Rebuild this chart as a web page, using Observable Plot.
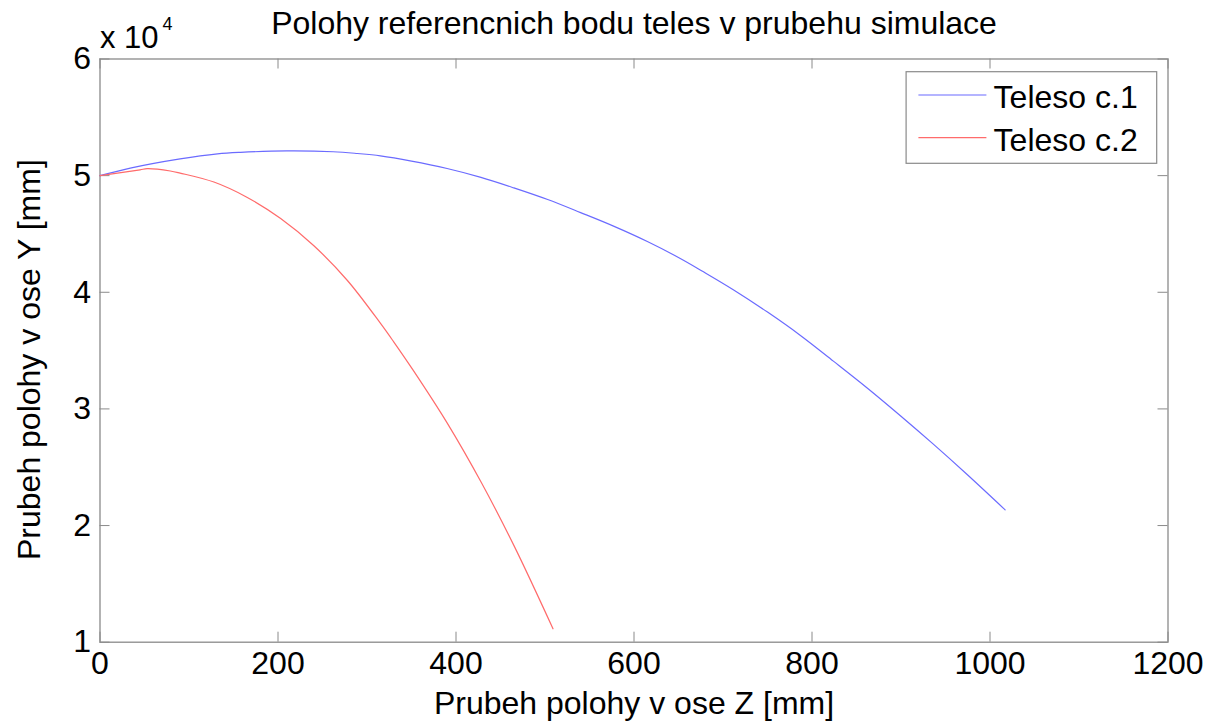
<!DOCTYPE html>
<html>
<head>
<meta charset="utf-8">
<script src="https://cdn.jsdelivr.net/npm/d3@7"></script>
<script src="https://cdn.jsdelivr.net/npm/@observablehq/plot@0.6"></script>
<style>
  html, body { margin: 0; padding: 0; background: white; }
  svg { display: block; }
</style>
</head>
<body>
<div id="chart"></div>
<script>
// ---- data (Z in mm, Y in mm) ----
const zBlue = [0, 34, 90, 132, 158, 210, 262, 289, 315, 350, 390, 428, 465, 503, 540, 577, 615, 652, 677, 712, 750, 787, 824, 862, 899, 936, 974, 1017];
const yBlue = [50000, 50650, 51440, 51870, 52000, 52120, 52050, 51900, 51700, 51250, 50610, 49850, 48950, 47950, 46830, 45670, 44350, 42900, 41800, 40200, 38300, 36300, 34100, 31800, 29440, 27000, 24400, 21350];
const zRed = [0, 45, 53, 79, 90, 128, 165, 203, 240, 278, 315, 330, 352, 390, 428, 465, 509];
const yRed = [50000, 50500, 50600, 50400, 50220, 49450, 48150, 46320, 44010, 41010, 37350, 35750, 33300, 28800, 23750, 18300, 11150];

const seriesNames = ["Teleso c.1", "Teleso c.2"];
const seriesColors = ["#6b6bff", "#ff6b6b"];
const xTicks = [0, 200, 400, 600, 800, 1000, 1200];
const yTicks = [10000, 20000, 30000, 40000, 50000, 60000];

const titleText = "Polohy referencnich bodu teles v prubehu simulace";
const xLabel = "Prubeh polohy v ose Z [mm]";
const yLabel = "Prubeh polohy v ose Y [mm]";

const blue = zBlue.map((z, i) => ({z, y: yBlue[i]}));
const red = zRed.map((z, i) => ({z, y: yRed[i]}));

// ---- layout ----
const W = 1215, H = 722;
const mL = 99.5, mR = 47.5, mT = 58.5, mB = 80.3;
const pW = W - mL - mR, pH = H - mT - mB;
const axisColor = "#8a8a8a";
const font = "'Liberation Sans', Arial, Helvetica, sans-serif";
const tickLen = 10;

const svg = Plot.plot({
  width: W,
  height: H,
  marginLeft: mL,
  marginRight: mR,
  marginTop: mT,
  marginBottom: mB,
  style: {fontFamily: font, color: "black", background: "white", overflow: "visible"},
  x: {domain: [0, 1200]},
  y: {domain: [10000, 60000]},
  marks: [
    Plot.frame({stroke: axisColor, strokeWidth: 1.3}),
    Plot.tickX(xTicks, {x: d => d, insetTop: pH - tickLen, stroke: axisColor}),
    Plot.tickX(xTicks, {x: d => d, insetBottom: pH - tickLen, stroke: axisColor}),
    Plot.tickY(yTicks, {y: d => d, insetRight: pW - tickLen, stroke: axisColor}),
    Plot.tickY(yTicks, {y: d => d, insetLeft: pW - tickLen, stroke: axisColor}),
    Plot.axisX(xTicks, {tickSize: 0, tickPadding: 9, fontSize: 32, label: null, tickFormat: d => String(d), fill: "black"}),
    Plot.axisY(yTicks, {tickSize: 0, tickPadding: 9, fontSize: 32, label: null, tickFormat: d => String(d / 10000), fill: "black"}),
    Plot.line(blue, {x: "z", y: "y", stroke: seriesColors[0], strokeWidth: 1.2, curve: "catmull-rom"}),
    Plot.line(red, {x: "z", y: "y", stroke: seriesColors[1], strokeWidth: 1.2, curve: "catmull-rom"}),
    Plot.text([titleText], {frameAnchor: "top", lineAnchor: "bottom", dy: -25, fontSize: 32, fill: "black"}),
    Plot.text([xLabel], {frameAnchor: "bottom", lineAnchor: "bottom", dy: 72, fontSize: 32, fill: "black"}),
    Plot.text([yLabel], {frameAnchor: "left", textAnchor: "middle", lineAnchor: "bottom", rotate: -90, dx: -60.5, dy: 9, fontSize: 32, fill: "black"}),
    Plot.text(["x 10"], {frameAnchor: "top-left", textAnchor: "start", lineAnchor: "bottom", dx: 0, dy: -11.5, fontSize: 31, fill: "black"}),
    Plot.text(["4"], {frameAnchor: "top-left", textAnchor: "start", lineAnchor: "bottom", dx: 62.5, dy: -29.2, fontSize: 18, fill: "black"})
  ]
});

// ---- legend (inside top-right of the axes) ----
const sel = d3.select(svg);
const lg = sel.append("g").attr("font-family", font).attr("font-size", 32).attr("text-anchor", "start");
const boxX = W - mR - 10.8, boxY = mT + 13.2, boxW = 250.6, boxH = 91.6;
lg.append("rect")
  .attr("x", boxX - boxW).attr("y", boxY).attr("width", boxW).attr("height", boxH)
  .attr("fill", "white").attr("stroke", axisColor).attr("stroke-width", 1.2);
seriesNames.forEach((name, i) => {
  const cy = boxY + 23.3 + i * 42.7;
  lg.append("line")
    .attr("x1", boxX - boxW + 12.3).attr("x2", boxX - boxW + 80.3)
    .attr("y1", cy).attr("y2", cy)
    .attr("stroke", seriesColors[i]).attr("stroke-width", 1.2);
  lg.append("text")
    .attr("x", boxX - boxW + 87.5).attr("y", cy + 12.8)
    .attr("text-anchor", "start")
    .attr("fill", "black")
    .text(name);
});

document.getElementById("chart").appendChild(svg);
</script>
</body>
</html>
